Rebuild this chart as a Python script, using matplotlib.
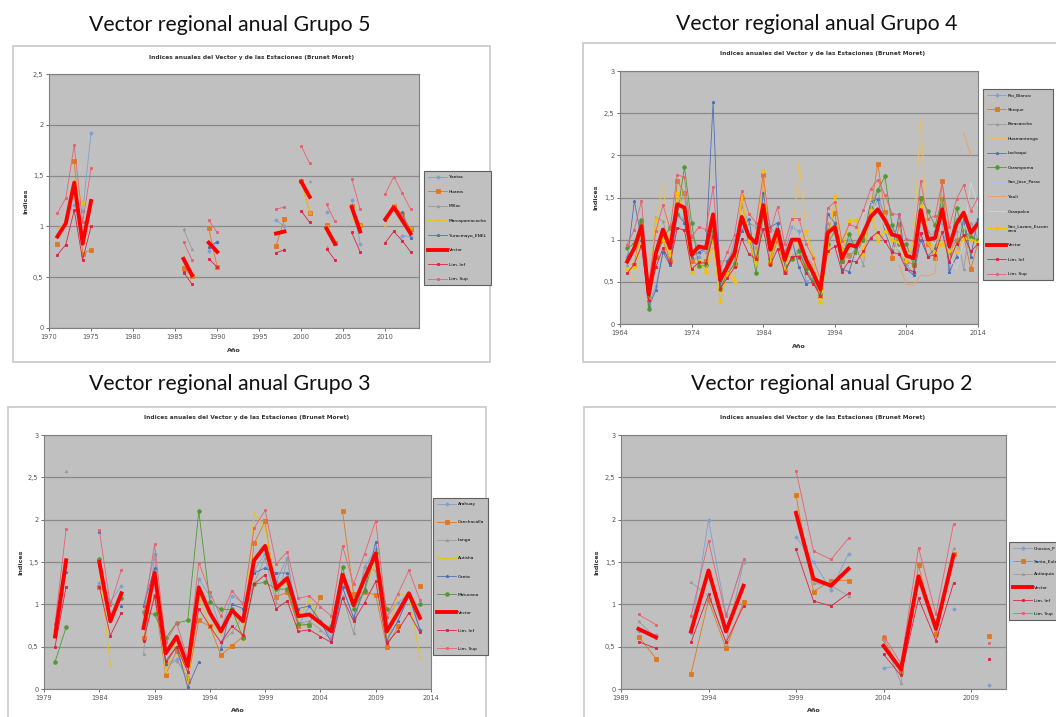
import numpy as np
import matplotlib
matplotlib.use('Agg')
import matplotlib.pyplot as plt
from matplotlib.patches import Rectangle

n = np.nan
W, H = 1056, 717

# ---------------- Grupo 5 ----------------
g5_years = list(range(1971, 2014))
g5_yantac = [n, n, 1.21, 1.15, 1.92] + [n]*10 + [n, n, n, 0.76, 0.85] + [n]*6 + \
    [1.06, 1.00, n, n, n, n, 1.14, n, n, 1.26, 0.83, n, n, 1.08, n, 0.91, 0.90]
g5_huaros = [0.83, n, 1.64, 0.73, 0.77] + [n]*10 + [0.59, 0.51, n, 0.98, 0.60] + [n]*6 + \
    [0.81, 1.07, n, 1.45, 1.13, n, 1.01, 0.84, n, 1.20, 1.01, n, n, n, 1.20, 1.12, 0.97]
g5_milloc = [n, n, 1.16, n, n] + [n]*10 + [0.97, 0.78, n, n, n] + [n]*6 + \
    [n, 0.78, n, n, 1.45, n, 0.80, n, n, n, n, n, n, n, n, 1.10, n]
g5_marca = [0.98, 1.02, 1.46, 1.23, n] + [n]*10 + [n, n, n, n, n] + [n]*6 + \
    [n, n, n, 1.45, 1.13, n, 1.00, n, n, 1.07, 1.01, n, n, 1.00, 1.21, n, 0.98]
g5_yurac = [n, n, n, n, n] + [n]*10 + [0.54, n, n, 0.80, 0.85] + [n]*6 + \
    [n, n, n, n, n, n, n, 0.83, n, n, n, n, n, 1.06, n, 1.14, 0.89]
g5_vector = [0.90, 1.03, 1.43, 0.83, 1.25] + [n]*10 + [0.68, 0.52, n, 0.84, 0.75] + [n]*6 + \
    [0.93, 0.95, n, 1.44, 1.29, n, 0.98, 0.83, n, 1.19, 0.95, n, n, 1.07, 1.19, 1.06, 0.93]
g5_inf = [0.72, 0.82, 1.16, 0.67, 1.00] + [n]*10 + [0.55, 0.43, n, 0.68, 0.60] + [n]*6 + \
    [0.74, 0.77, n, 1.15, 1.04, n, 0.78, 0.67, n, 0.94, 0.75, n, n, 0.84, 0.95, 0.86, 0.75]
g5_sup = [1.13, 1.28, 1.80, 1.04, 1.57] + [n]*10 + [0.85, 0.67, n, 1.06, 0.94] + [n]*6 + \
    [1.17, 1.19, n, 1.79, 1.62, n, 1.22, 1.05, n, 1.47, 1.17, n, n, 1.32, 1.49, 1.33, 1.17]

# ---------------- Grupo 4 ----------------
g4_years = list(range(1965, 2015))
g4_rio = [0.80, 0.90, 1.10, 0.22, 0.45, 0.85, 0.80, 1.30, 1.25, 0.75,
          0.80, 0.90, 1.05, 0.60, 0.70, 1.00, 1.20, 1.00, 0.90, 1.55,
          0.90, 1.20, 0.85, 1.15, 1.10, 0.50, 0.55, 0.45, 1.00, 1.20,
          0.90, 1.00, 0.95, 1.10, 1.30, 1.48, 1.30, 1.10, 1.00, 0.70,
          0.60, 1.20, 1.00, 1.10, 1.20, 0.65, 1.25, 1.20, 1.10, 1.25]
g4_sheque = [n, 0.70, 1.20, 0.30, 0.80, 1.00, 0.75, 1.70, 1.55, 0.75,
             0.70, 0.75, 1.20, 0.42, 0.60, 0.70, 1.50, 1.00, 0.78, 1.77,
             0.72, 1.00, 0.62, 0.78, 0.80, 0.70, 0.60, 0.33, 1.10, 1.32,
             0.75, 0.82, 0.85, 1.00, 1.35, 1.90, 1.33, 0.78, 1.18, 0.75,
             0.70, 1.50, 0.95, 0.78, 1.69, 0.82, 1.00, 1.05, 0.65, 0.97]
g4_parac = [0.70, 0.95, 0.95, 0.25, 1.27, 1.22, 0.90, 1.35, 1.57, 1.05,
            0.90, 0.85, 0.90, 0.75, 0.75, 0.90, 1.40, 1.20, 1.15, 1.30,
            1.15, 1.05, 0.80, 0.80, 0.90, 0.80, 0.70, 0.35, 1.20, 1.10,
            0.85, 0.80, 0.90, 0.70, 1.40, 1.60, 1.20, 1.00, 0.85, 0.70,
            0.90, 1.40, 1.10, 1.00, 1.40, 0.90, 1.10, 0.65, 1.20, 1.00]
g4_huam = [0.65, 0.50, 1.00, 0.35, 1.20, 1.66, 0.85, 1.55, 1.30, 0.60,
           0.75, 0.62, 0.90, 0.27, 0.65, 0.50, 1.55, 1.00, 0.70, 1.85,
           0.75, 1.10, 0.65, 0.90, 1.93, 1.10, 0.70, 0.25, 0.85, 1.52,
           0.90, 1.22, 1.25, 0.80, 1.50, 0.98, 1.30, 1.00, 0.95, 0.75,
           1.00, 2.42, 0.95, 0.85, 1.00, 0.85, 0.95, 1.00, 1.05, 0.95]
g4_lach = [0.75, 1.46, 1.00, 0.20, 0.40, 0.85, 0.70, 1.30, 1.20, 0.80,
           0.85, 0.90, 2.63, 0.45, 0.75, 0.85, 1.10, 1.25, 0.72, 1.55,
           1.15, 1.20, 0.70, 1.00, 0.67, 0.48, 0.50, 0.35, 1.30, 1.20,
           0.65, 0.62, 0.90, 1.00, 1.45, 1.48, 1.10, 0.87, 1.31, 0.65,
           0.58, 1.00, 0.80, 0.90, 1.50, 0.62, 0.80, 1.25, 0.80, 1.25]
g4_caram = [0.90, 0.95, 1.23, 0.18, 0.80, 1.00, 1.15, 1.30, 1.86, 1.20,
            0.69, 0.70, 1.10, 0.42, 0.60, 0.72, 1.25, 1.05, 0.60, 1.30,
            0.77, 1.10, 0.65, 0.77, 0.86, 0.65, 0.50, 0.35, 0.95, 1.10,
            0.75, 1.07, 0.85, 1.00, 1.30, 1.59, 1.75, 1.17, 0.95, 0.95,
            0.70, 1.50, 1.34, 1.17, 1.48, 0.85, 1.37, 1.10, 1.03, 1.00]
g4_sjose = [0.85, 0.95, 1.15, 0.30, 0.90, 1.00, 0.95, 1.35, 1.30, 0.85,
            0.90, 0.95, 1.20, 0.55, 0.70, 0.85, 1.20, 1.05, 1.00, 1.35,
            0.95, 1.15, 0.80, 1.05, 1.05, 0.80, 0.65, 0.45, 1.10, 1.15,
            0.80, 0.95, 0.95, 1.10, 1.30, 1.40, 1.25, 1.10, 1.05, 0.85,
            0.80, 1.30, 1.05, 1.05, 1.30, 0.95, 1.20, 1.30, 1.10, 1.20]
g4_yauli = [n]*38 + [0.70, 0.47, 0.46, 0.58, 0.57, 0.60, 1.50, n, n, 2.27, 2.00, n]
g4_casap = [n]*32 + [0.72, 1.30, 1.45, 1.35, 1.15, 0.90, 0.90, 0.75,
                     0.80, 1.20, 1.00, 0.95, 1.25, 0.80, 0.65, 1.00, 1.68, 1.40]
g4_slazaro = [0.65, 0.67, 1.10, 0.30, 1.25, 1.00, 0.82, 1.55, 1.35, 0.62,
              0.75, 0.62, 1.00, 0.27, 0.60, 0.50, 1.52, 0.98, 0.72, 1.82,
              0.75, 1.05, 0.65, 1.00, 0.95, 1.10, 0.80, 0.26, 0.85, 1.52,
              0.85, 1.22, 1.23, 0.82, 1.35, 0.98, 1.10, 1.00, 0.97, 0.75,
              0.97, 1.40, 1.00, 0.85, 0.95, 0.87, 0.85, 1.02, 1.00, 0.97]
g4_vector = [0.74, 0.90, 1.16, 0.35, 0.84, 1.12, 0.90, 1.42, 1.38, 0.82,
             0.92, 0.90, 1.30, 0.52, 0.68, 0.84, 1.27, 1.04, 0.96, 1.41,
             0.88, 1.12, 0.76, 1.00, 1.00, 0.76, 0.60, 0.41, 1.08, 1.15,
             0.78, 0.94, 0.92, 1.08, 1.27, 1.36, 1.23, 1.06, 1.04, 0.81,
             0.78, 1.35, 1.00, 1.02, 1.36, 0.92, 1.19, 1.32, 1.08, 1.19]
g4_inf = [0.60, 0.71, 0.93, 0.28, 0.67, 0.90, 0.72, 1.14, 1.11, 0.65,
          0.73, 0.72, 1.04, 0.42, 0.55, 0.67, 1.01, 0.83, 0.77, 1.13,
          0.70, 0.89, 0.61, 0.80, 0.80, 0.61, 0.48, 0.33, 0.86, 0.92,
          0.62, 0.75, 0.74, 0.86, 1.02, 1.09, 0.98, 0.85, 0.83, 0.65,
          0.62, 1.08, 0.80, 0.82, 1.09, 0.74, 0.95, 1.05, 0.86, 0.95]
g4_sup = [0.94, 1.12, 1.46, 0.45, 1.10, 1.41, 1.13, 1.77, 1.74, 1.03,
          1.15, 1.12, 1.62, 0.65, 0.85, 1.06, 1.58, 1.31, 1.20, 1.77,
          1.10, 1.39, 0.95, 1.25, 1.25, 0.95, 0.78, 0.52, 1.37, 1.45,
          0.98, 1.18, 1.15, 1.35, 1.60, 1.71, 1.53, 1.31, 1.29, 1.01,
          0.98, 1.69, 1.25, 1.28, 1.68, 1.15, 1.48, 1.65, 1.34, 1.50]

# ---------------- Grupo 3 ----------------
g3_years = list(range(1980, 2014))
g3_arahuay = [0.70, n, n, n, 1.25, 1.03, 1.22, n, 0.98, 1.60, 0.30, 0.35, 0.12, 1.30, 1.10, 0.70, 1.10,
              1.02, 1.40, 1.60, 1.27, 1.55, 0.75, 0.98, 0.80, 0.60, 1.20, 0.85, 1.44, 1.65, 0.85, 1.02, 1.12, 0.70]
g3_canch = [n, n, n, n, 1.20, n, n, n, 0.60, 1.10, 0.17, 0.45, 0.10, 0.81, 0.74, 0.40, 0.51,
            0.62, 1.72, 1.98, 1.09, 1.14, 0.75, 0.76, 1.09, n, 2.10, 1.12, 1.15, 1.11, 0.50, 0.74, n, 1.22]
g3_langa = [n, 2.57, n, n, 1.22, 1.03, n, n, 0.41, 1.58, 0.28, 0.33, 0.15, 1.30, n, 0.55, 0.67,
            0.85, 1.25, 1.55, 1.02, 1.52, 0.78, 0.80, 0.70, 0.58, 1.10, 0.66, 1.44, 1.40, 0.60, 0.80, 1.10, 0.70]
g3_autisha = [n, n, n, n, 1.45, 0.28, n, n, 0.90, 1.35, 0.20, 0.60, 0.05, 1.10, 0.75, 0.65, 0.95,
              0.58, 2.08, 1.90, 1.20, 1.25, 0.85, 1.05, 0.80, 0.70, 1.30, 1.05, 1.18, 1.50, 0.60, 1.12, 1.10, 0.38]
g3_canta = [0.77, 1.38, n, n, 1.85, n, 0.98, n, 0.98, 1.43, 0.30, 0.50, 0.02, 0.32, n, 0.47, 1.00,
            0.95, 1.37, 1.43, 1.37, 1.37, 0.95, 0.98, 0.80, 0.55, 1.20, 0.84, 1.18, 1.74, 0.57, 0.80, 1.10, 0.70]
g3_matuc = [0.32, 0.73, n, n, 1.54, n, 1.08, n, 0.91, 0.88, 0.60, 0.78, 0.81, 2.10, 1.03, 0.94, 0.94,
            0.60, 1.24, 1.26, 1.18, 1.18, 0.77, 0.76, n, 0.75, 1.44, 0.95, 1.16, 1.61, 0.94, n, n, 1.00]
g3_vector = [0.62, 1.52, n, n, 1.50, 0.80, 1.13, n, 0.72, 1.37, 0.42, 0.62, 0.27, 1.20, 0.90, 0.68, 0.93,
             0.80, 1.52, 1.69, 1.19, 1.31, 0.86, 0.88, 0.78, 0.68, 1.35, 0.99, 1.31, 1.60, 0.68, 0.90, 1.13, 0.84]
g3_inf = [0.50, 1.21, n, n, 1.21, 0.63, 0.90, n, 0.57, 1.10, 0.33, 0.50, 0.20, 0.95, 0.74, 0.55, 0.74,
          0.64, 1.24, 1.35, 0.95, 1.04, 0.68, 0.70, 0.62, 0.55, 1.08, 0.80, 1.02, 1.27, 0.54, 0.69, 0.90, 0.67]
g3_sup = [0.77, 1.89, n, n, 1.88, 0.99, 1.41, n, 0.88, 1.71, 0.55, 0.78, 0.35, 1.49, 1.14, 0.86, 1.16,
          1.00, 1.90, 2.11, 1.48, 1.62, 1.07, 1.10, 0.97, 0.86, 1.69, 1.24, 1.60, 1.99, 0.85, 1.12, 1.40, 1.05]

# ---------------- Grupo 2 ----------------
g2_years = list(range(1990, 2011))
g2_chosica = [0.68, 0.64, n, 0.66, 2.00, 0.88, 1.50, n, n, 1.80, 1.50, 1.17, 1.60, n, 0.25, 0.27, n, n, 0.95, n, 0.05]
g2_santa = [0.62, 0.36, n, 0.18, 1.05, 0.48, 1.03, n, n, 2.29, 1.15, 1.28, 1.28, n, 0.60, 0.20, 1.46, 0.65, 1.60, n, 0.63]
g2_antioq = [0.80, 0.60, n, 1.26, 1.10, 0.55, 1.50, n, n, 2.10, 1.25, 1.22, 1.10, n, 0.58, 0.07, 1.35, 0.70, 1.66, n, n]
g2_vector = [0.71, 0.61, n, 0.68, 1.40, 0.68, 1.22, n, n, 2.08, 1.30, 1.22, 1.42, n, 0.51, 0.23, 1.33, 0.71, 1.58, n, 0.43]
g2_inf = [0.56, 0.48, n, 0.55, 1.12, 0.55, 0.98, n, n, 1.65, 1.04, 0.98, 1.13, n, 0.41, 0.16, 1.07, 0.57, 1.25, n, 0.35]
g2_sup = [0.88, 0.76, n, 0.86, 1.75, 0.86, 1.53, n, n, 2.58, 1.63, 1.53, 1.78, n, 0.63, 0.30, 1.67, 0.88, 1.95, n, 0.54]

# estilos: color, marcador, tamaño marcador, grosor linea
LBLUE = ('#7f9fcf', 'D', 1.8, 0.6)
ORANGE = ('#e0781e', 's', 2.8, 0.6)
GRAY = ('#9a9a9a', '^', 1.8, 0.6)
YELLOW = ('#e8c020', 'x', 1.8, 0.7)
BLUE = ('#4f6fb8', '*', 2.2, 0.6)
GREEN = ('#4f9a30', 'o', 2.6, 0.6)
VECTOR = ('#ff0000', '', 0, 2.8)
INF = ('#e02040', 's', 1.6, 0.6)
SUP = ('#e86070', 's', 1.6, 0.6)

fig = plt.figure(figsize=(W/100, H/100), dpi=100)
fig.patch.set_facecolor('white')


def frac(x0, y0, x1, y1):
    return [x0/W, 1 - y1/H, (x1 - x0)/W, (y1 - y0)/H]


def panel(title, tpos, box, plot, legpos, years, series, xlim, xticks, ymax, spacing):
    b = frac(*box)
    fig.add_artist(Rectangle((b[0], b[1]), b[2], b[3], transform=fig.transFigure,
                             fc='white', ec='#c8c8c8', lw=1.2, zorder=0))
    fig.text(tpos[0]/W, 1 - tpos[1]/H, title, ha='center', va='center',
             fontsize=15.3, family='Lato', color='#111111')
    fig.text((box[0] + box[2])/2/W, 1 - (box[1] + 11)/H,
             'Indices anuales del Vector y de las Estaciones (Brunet Moret)',
             ha='center', va='center', fontsize=4.2, fontweight='bold', color='#333333')
    ax = fig.add_axes(frac(*plot))
    ax.set_facecolor('#c0c0c0')
    for name, vals, st in series:
        c, m, ms, lw = st
        ax.plot(years, vals, color=c, marker=m if m else None, ms=ms, lw=lw,
                mew=0.6, label=name, zorder=5 if name == 'Vector' else 3)
    ax.set_xlim(*xlim)
    ax.set_ylim(0, ymax)
    ax.set_xticks(xticks)
    yt = np.arange(0, ymax + 0.01, 0.5)
    ax.set_yticks(yt)
    ax.set_yticklabels([('%g' % v).replace('.', ',') for v in yt])
    ax.yaxis.grid(True, color='#8a8a8a', lw=0.9)
    ax.set_axisbelow(True)
    ax.tick_params(labelsize=4.8, colors='#555555', length=2, width=0.6, pad=2)
    for s in ax.spines.values():
        s.set_color('#808080')
        s.set_linewidth(0.8)
    fig.text((box[0] + 13)/W, 1 - (plot[1] + plot[3])/2/H, 'Indices', rotation=90,
             ha='center', va='center', fontsize=4.6, fontweight='bold', color='#333333')
    fig.text((plot[0] + plot[2])/2/W, 1 - (plot[3] + 22)/H, 'Año',
             ha='center', va='center', fontsize=4.6, fontweight='bold', color='#333333')
    leg = ax.legend(loc='upper left', bbox_to_anchor=(legpos[0]/W, 1 - legpos[1]/H),
                    bbox_transform=fig.transFigure, borderaxespad=0, fontsize=3.2,
                    labelspacing=spacing, handlelength=4.3, handletextpad=0.4,
                    borderpad=0.9, fancybox=False, framealpha=1)
    leg.get_frame().set_facecolor('#c0c0c0')
    leg.get_frame().set_edgecolor('#606060')
    leg.get_frame().set_linewidth(0.8)
    return ax


panel('Vector regional anual Grupo 5', (230, 25), (13, 46, 490, 362), (49, 74, 419, 328),
      (424, 171), g5_years,
      [('Yantac', g5_yantac, LBLUE), ('Huaros', g5_huaros, ORANGE), ('Milloc', g5_milloc, GRAY),
       ('Marcapomacocha', g5_marca, YELLOW), ('Yuracmayo_ENEL', g5_yurac, BLUE),
       ('Vector', g5_vector, VECTOR), ('Lim. Inf', g5_inf, INF), ('Lim. Sup', g5_sup, SUP)],
      (1970, 2014), range(1970, 2011, 5), 2.5, 2.36)

panel('Vector regional anual Grupo 4', (817, 24), (583, 43, 1062, 362), (620, 71, 978, 324),
      (983, 89), g4_years,
      [('Rio_Blanco', g4_rio, LBLUE), ('Sheque', g4_sheque, ORANGE), ('Paracancha', g4_parac, GRAY),
       ('Huamantanga', g4_huam, ('#e8c060', '', 0, 0.7)), ('Lachaqui', g4_lach, BLUE),
       ('Carampoma', g4_caram, GREEN), ('San_Jose_Parac', g4_sjose, ('#a8c8e8', '', 0, 0.6)),
       ('Yauli', g4_yauli, ('#f0a060', '', 0, 0.7)), ('Casapalca', g4_casap, ('#d4d4d4', '', 0, 0.6)),
       ('San_Lazaro_Escom\narca', g4_slazaro, ('#f5c000', 'D', 2.0, 0.7)),
       ('Vector', g4_vector, VECTOR), ('Lim. Inf', g4_inf, INF), ('Lim. Sup', g4_sup, SUP)],
      (1964, 2014), range(1964, 2015, 10), 3, 2.35)

panel('Vector regional anual Grupo 3', (230, 384), (8, 407, 486, 720), (44, 435, 431, 689),
      (433, 498), g3_years,
      [('Arahuay', g3_arahuay, LBLUE), ('Canchacalla', g3_canch, ORANGE), ('Langa', g3_langa, GRAY),
       ('Autisha', g3_autisha, YELLOW), ('Canta', g3_canta, BLUE), ('Matucana', g3_matuc, GREEN),
       ('Vector', g3_vector, VECTOR), ('Lim. Inf', g3_inf, INF), ('Lim. Sup', g3_sup, SUP)],
      (1979, 2014), range(1979, 2015, 5), 3, 3.15)

panel('Vector regional anual Grupo 2', (832, 384), (584, 407, 1062, 720), (621, 435, 1006, 689),
      (1009, 542), g2_years,
      [('Chosica_P', g2_chosica, LBLUE), ('Santa_Eulalia', g2_santa, ORANGE),
       ('Antioquia', g2_antioq, GRAY), ('Vector', g2_vector, VECTOR),
       ('Lim. Inf', g2_inf, INF), ('Lim. Sup', g2_sup, SUP)],
      (1989, 2011), range(1989, 2010, 5), 3, 2.04)

fig.savefig('out.png', dpi=100)
